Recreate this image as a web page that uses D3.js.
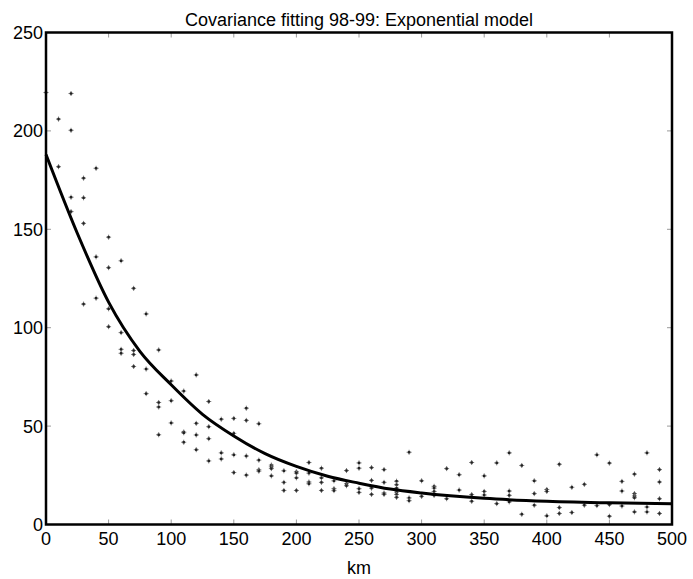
<!DOCTYPE html>
<html>
<head>
<meta charset="utf-8">
<script src="https://cdn.jsdelivr.net/npm/d3@7"></script>
<style>
  body { margin: 0; background: #fff; }
  text { font-family: "Liberation Sans", Arial, sans-serif; fill: #000; }
</style>
</head>
<body>
<script>
// empirical covariance, one list of values per 10 km distance bin
const binKm = [0, 10, 20, 30, 40, 50, 60, 70, 80, 90, 100, 110, 120, 130, 140, 150, 160, 170, 180, 190,
  200, 210, 220, 230, 240, 250, 260, 270, 280, 290, 300, 310, 320, 330, 340, 350, 360, 370, 380, 390,
  400, 410, 420, 430, 440, 450, 460, 470, 480, 490]
const binValues = [
  [219.5],
  [206, 181.8],
  [219, 200.3, 166.3, 159],
  [176, 166, 153, 112],
  [181, 136, 115],
  [146, 130.5, 109.6, 100.5],
  [134, 97.5, 89, 87],
  [120, 88.4, 86.4, 80.3],
  [107, 79, 66.5],
  [88.7, 62, 59.7, 45.6],
  [72.9, 62.9, 51.6],
  [67.8, 47, 46.6, 41.8],
  [76, 51.4, 45.5, 38],
  [62.5, 49.7, 43.6, 32.3],
  [53.5, 36.4, 33.3],
  [53.9, 46.3, 35.4, 26.4],
  [59.1, 52.9, 34.8, 25.1],
  [51.2, 32.7, 27.8, 27.1],
  [30.2, 29.3, 28.4, 24.7],
  [27.3, 21.4, 17.3],
  [26.8, 26.1, 23.7, 17.3],
  [31.5, 26.1, 21.6, 20.7],
  [28.6, 23.7, 21.4, 17.3],
  [22.2, 18.2, 17.2],
  [27.4, 20.7, 19.7],
  [31.3, 28.6, 18.2, 16.3],
  [28.9, 22.4, 18.5, 15.3],
  [27.9, 21.4, 16, 15.3],
  [22, 20.2, 18.5, 16.5, 15.3, 13.8],
  [36.7, 13.5, 12.1],
  [22.2, 14.3],
  [19.4, 18.5, 16.8, 14.8],
  [28.4, 13.1],
  [25.3, 17.5],
  [31.5, 15.2, 11.8],
  [24.7, 16.8, 15],
  [31.3, 10.6],
  [36.4, 17, 14.8, 11.5],
  [30, 5.2],
  [22.2, 15.7, 9.8],
  [17.8, 16.8, 4.4],
  [30.6, 8.6, 5.6],
  [18.9, 6.1],
  [20.4, 9.8],
  [35.4, 9.6],
  [31.2, 10.1, 4.2],
  [21.9, 17, 9.4],
  [25.6, 15.7, 14.5, 13.6, 6.4],
  [36.4, 8.9, 6.4],
  [27.9, 21.6, 13.1, 5.6]
]

// fitted exponential model
const modelKm = [0, 25, 50, 75, 100, 125, 150, 175, 200, 225, 250, 275, 300, 350, 400, 450, 500]
const modelValues = [188, 148, 113, 88, 71, 56, 45, 36, 29.5, 24.5, 21, 18, 16, 13.3, 11.8, 11, 10.6]

const xTicks = [0, 50, 100, 150, 200, 250, 300, 350, 400, 450, 500]
const yTicks = [0, 50, 100, 150, 200, 250]

const width = 693, height = 579
const plot = {left: 46, right: 672, top: 32.5, bottom: 524.5}

const svg = d3.select('body').append('svg')
  .attr('width', width)
  .attr('height', height)

const x = d3.scaleLinear().domain([0, 500]).range([plot.left, plot.right])
const y = d3.scaleLinear().domain([0, 250]).range([plot.bottom, plot.top])

// inward gray ticks on all four sides
const tickColor = '#9a9a9a', tickLen = 5
const ticks = svg.append('g')
xTicks.forEach(t => {
  ticks.append('line').attr('x1', x(t)).attr('x2', x(t))
    .attr('y1', plot.bottom).attr('y2', plot.bottom - tickLen)
  ticks.append('line').attr('x1', x(t)).attr('x2', x(t))
    .attr('y1', plot.top).attr('y2', plot.top + tickLen)
})
yTicks.forEach(t => {
  ticks.append('line').attr('y1', y(t)).attr('y2', y(t))
    .attr('x1', plot.left).attr('x2', plot.left + tickLen)
  ticks.append('line').attr('y1', y(t)).attr('y2', y(t))
    .attr('x1', plot.right).attr('x2', plot.right - tickLen)
})
ticks.selectAll('line').attr('stroke', tickColor).attr('stroke-width', 1)

// scatter of binned covariances
const points = []
binKm.forEach((km, i) => binValues[i].forEach(v => points.push({km, v})))

const marks = svg.append('g').selectAll('g')
  .data(points)
  .enter().append('g')
    .attr('transform', d => `translate(${x(d.km)},${y(d.v)})`)
marks.append('path')
  .attr('d', 'M-2.5,0H2.5M0,-2.5V2.5')
  .attr('stroke', '#777')
  .attr('stroke-width', 1)
marks.append('rect')
  .attr('x', -1.2).attr('y', -1.2)
  .attr('width', 2.4).attr('height', 2.4)
  .attr('fill', '#222')

// model curve
const line = d3.line()
  .x(d => x(d[0]))
  .y(d => y(d[1]))
  .curve(d3.curveMonotoneX)

svg.append('path')
  .datum(modelKm.map((k, i) => [k, modelValues[i]]))
  .attr('d', line)
  .attr('fill', 'none')
  .attr('stroke', '#000')
  .attr('stroke-width', 3)

// frame
svg.append('rect')
  .attr('x', plot.left).attr('y', plot.top)
  .attr('width', plot.right - plot.left)
  .attr('height', plot.bottom - plot.top)
  .attr('fill', 'none')
  .attr('stroke', '#000')
  .attr('stroke-width', 2.5)

// tick labels
svg.append('g').selectAll('text')
  .data(xTicks)
  .enter().append('text')
    .attr('x', d => x(d))
    .attr('y', 545)
    .attr('text-anchor', 'middle')
    .style('font-size', '18px')
    .text(d => d)

svg.append('g').selectAll('text')
  .data(yTicks)
  .enter().append('text')
    .attr('x', 43)
    .attr('y', d => y(d) + 6.5)
    .attr('text-anchor', 'end')
    .style('font-size', '18px')
    .text(d => d)

svg.append('text')
  .attr('x', (plot.left + plot.right) / 2)
  .attr('y', 574)
  .attr('text-anchor', 'middle')
  .style('font-size', '18px')
  .text('km')

svg.append('text')
  .attr('x', (plot.left + plot.right) / 2)
  .attr('y', 26)
  .attr('text-anchor', 'middle')
  .style('font-size', '18px')
  .text('Covariance fitting 98-99: Exponential model')
</script>
</body>
</html>
